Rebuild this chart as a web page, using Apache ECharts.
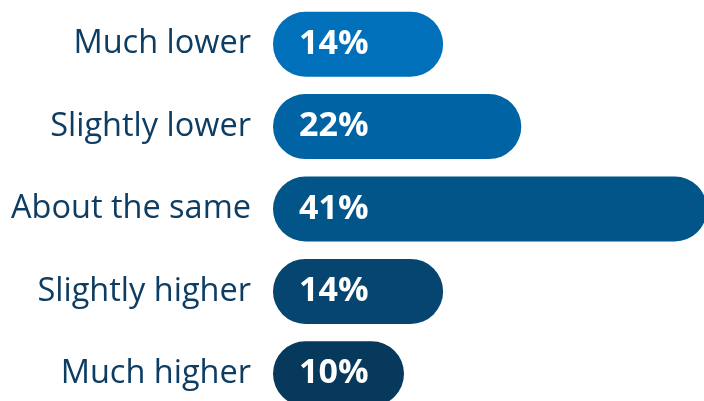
<!DOCTYPE html>
<html>
<head>
<meta charset="utf-8">
<script src="https://cdn.jsdelivr.net/npm/echarts@6/dist/echarts.min.js"></script>
<style>html,body{margin:0;padding:0;background:#fff;}#chart{width:704px;height:401px;}</style>
</head>
<body>
<div id="chart"></div>
<script>
const categories = ['Much lower', 'Slightly lower', 'About the same', 'Slightly higher', 'Much higher'];
const values = [14, 22, 41, 14, 10];
const palette = ['#0070BA', '#0063A4', '#025588', '#054570', '#07395D'];
// rounded-cap allowance added to each bar's length (in value units)
const capUnits = 3.4;

const chart = echarts.init(document.getElementById('chart'), null, {renderer: 'canvas'});
const R = 32.5;
chart.setOption({
  animation: false,
  grid: {left: 273, top: 3, width: 438, height: 412, containLabel: false, outerBoundsMode: 'none'},
  xAxis: {type: 'value', min: 0, max: 44.8, show: false},
  yAxis: {
    type: 'category', data: categories, inverse: true,
    axisLine: {show: false}, axisTick: {show: false}, splitLine: {show: false},
    axisLabel: {margin: 22, color: '#0E3D63', fontFamily: 'Open Sans', fontSize: 32.5}
  },
  series: [
    {
      type: 'bar', barWidth: 65,
      data: values.map((v, i) => ({value: v + capUnits, itemStyle: {color: palette[i], borderRadius: R}})),
      label: {
        show: true, position: 'insideLeft', distance: 0, offset: [26, 0],
        formatter: p => values[p.dataIndex] + '%',
        color: '#fff', fontFamily: 'Open Sans', fontWeight: 'bold', fontSize: 34
      }
    }
  ]
});
</script>
</body>
</html>
